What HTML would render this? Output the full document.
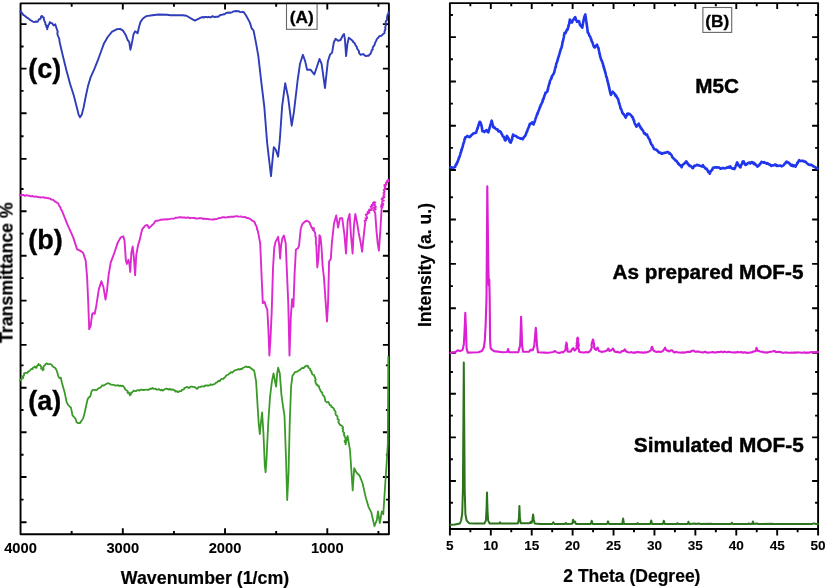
<!DOCTYPE html>
<html><head><meta charset="utf-8"><style>
html,body{margin:0;padding:0;background:#fff;width:825px;height:588px;overflow:hidden}
svg{display:block}
text{font-family:"Liberation Sans",sans-serif;font-weight:bold;fill:#000;stroke:#000;stroke-width:0.45px}
</style></head><body>
<svg width="825" height="588" viewBox="0 0 825 588">
<rect x="0" y="0" width="825" height="588" fill="#fff"/>
<rect x="286.5" y="3.4" width="30.6" height="25.9" fill="#fff" stroke="#666" stroke-width="1.1"/>
<rect x="702.9" y="7.5" width="28.8" height="24.9" fill="#fff" stroke="#666" stroke-width="1.1"/>
<path d="M71.67 3.40L71.67 6.70 M71.67 534.30L71.67 531.00 M122.80 3.40L122.80 9.40 M122.80 534.30L122.80 528.30 M173.93 3.40L173.93 6.70 M173.93 534.30L173.93 531.00 M225.05 3.40L225.05 9.40 M225.05 534.30L225.05 528.30 M276.17 3.40L276.17 6.70 M276.17 534.30L276.17 531.00 M327.30 3.40L327.30 9.40 M327.30 534.30L327.30 528.30 M378.43 3.40L378.43 6.70 M378.43 534.30L378.43 531.00 M20.55 24.10L26.55 24.10 M388.90 24.10L382.90 24.10 M20.55 46.50L23.55 46.50 M388.90 46.50L385.90 46.50 M20.55 68.60L26.55 68.60 M388.90 68.60L382.90 68.60 M20.55 90.90L23.55 90.90 M388.90 90.90L385.90 90.90 M20.55 113.30L26.55 113.30 M388.90 113.30L382.90 113.30 M20.55 136.30L23.55 136.30 M388.90 136.30L385.90 136.30 M20.55 158.90L26.55 158.90 M388.90 158.90L382.90 158.90 M20.55 189.00L23.55 189.00 M388.90 189.00L385.90 189.00 M20.55 211.30L26.55 211.30 M388.90 211.30L382.90 211.30 M20.55 233.60L23.55 233.60 M388.90 233.60L385.90 233.60 M20.55 255.80L26.55 255.80 M388.90 255.80L382.90 255.80 M20.55 278.10L23.55 278.10 M388.90 278.10L385.90 278.10 M20.55 300.60L26.55 300.60 M388.90 300.60L382.90 300.60 M20.55 323.10L23.55 323.10 M388.90 323.10L385.90 323.10 M20.55 344.90L26.55 344.90 M388.90 344.90L382.90 344.90 M20.55 365.40L23.55 365.40 M388.90 365.40L385.90 365.40 M20.55 387.70L26.55 387.70 M388.90 387.70L382.90 387.70 M20.55 410.00L23.55 410.00 M388.90 410.00L385.90 410.00 M20.55 432.20L26.55 432.20 M388.90 432.20L382.90 432.20 M20.55 454.70L23.55 454.70 M388.90 454.70L385.90 454.70 M20.55 477.00L26.55 477.00 M388.90 477.00L382.90 477.00 M20.55 499.60L23.55 499.60 M388.90 499.60L385.90 499.60 M20.55 522.30L26.55 522.30 M388.90 522.30L382.90 522.30 M449.90 529.00L449.90 535.50 M470.36 3.10L470.36 6.30 M470.36 529.00L470.36 532.30 M490.81 3.10L490.81 9.10 M490.81 529.00L490.81 535.50 M511.27 3.10L511.27 6.30 M511.27 529.00L511.27 532.30 M531.72 3.10L531.72 9.10 M531.72 529.00L531.72 535.50 M552.18 3.10L552.18 6.30 M552.18 529.00L552.18 532.30 M572.63 3.10L572.63 9.10 M572.63 529.00L572.63 535.50 M593.09 3.10L593.09 6.30 M593.09 529.00L593.09 532.30 M613.54 3.10L613.54 9.10 M613.54 529.00L613.54 535.50 M634.00 3.10L634.00 6.30 M634.00 529.00L634.00 532.30 M654.45 3.10L654.45 9.10 M654.45 529.00L654.45 535.50 M674.91 3.10L674.91 6.30 M674.91 529.00L674.91 532.30 M695.37 3.10L695.37 9.10 M695.37 529.00L695.37 535.50 M715.82 3.10L715.82 6.30 M715.82 529.00L715.82 532.30 M736.28 3.10L736.28 9.10 M736.28 529.00L736.28 535.50 M756.73 3.10L756.73 6.30 M756.73 529.00L756.73 532.30 M777.19 3.10L777.19 9.10 M777.19 529.00L777.19 535.50 M797.64 3.10L797.64 6.30 M797.64 529.00L797.64 532.30 M818.10 529.00L818.10 535.50 M449.90 15.00L452.90 15.00 M818.10 15.00L815.10 15.00 M449.90 37.15L455.90 37.15 M818.10 37.15L812.10 37.15 M449.90 59.30L452.90 59.30 M818.10 59.30L815.10 59.30 M449.90 81.45L455.90 81.45 M818.10 81.45L812.10 81.45 M449.90 103.60L452.90 103.60 M818.10 103.60L815.10 103.60 M449.90 125.75L455.90 125.75 M818.10 125.75L812.10 125.75 M449.90 147.90L452.90 147.90 M818.10 147.90L815.10 147.90 M449.90 170.05L455.90 170.05 M818.10 170.05L812.10 170.05 M449.90 197.30L452.90 197.30 M818.10 197.30L815.10 197.30 M449.90 219.50L455.90 219.50 M818.10 219.50L812.10 219.50 M449.90 241.70L452.90 241.70 M818.10 241.70L815.10 241.70 M449.90 263.90L455.90 263.90 M818.10 263.90L812.10 263.90 M449.90 286.10L452.90 286.10 M818.10 286.10L815.10 286.10 M449.90 308.30L455.90 308.30 M818.10 308.30L812.10 308.30 M449.90 330.50L452.90 330.50 M818.10 330.50L815.10 330.50 M449.90 352.70L455.90 352.70 M818.10 352.70L812.10 352.70 M449.90 372.00L452.90 372.00 M818.10 372.00L815.10 372.00 M449.90 393.80L455.90 393.80 M818.10 393.80L812.10 393.80 M449.90 415.60L452.90 415.60 M818.10 415.60L815.10 415.60 M449.90 437.40L455.90 437.40 M818.10 437.40L812.10 437.40 M449.90 459.20L452.90 459.20 M818.10 459.20L815.10 459.20 M449.90 481.00L455.90 481.00 M818.10 481.00L812.10 481.00 M449.90 502.80L452.90 502.80 M818.10 502.80L815.10 502.80" stroke="#000" stroke-width="1.9" fill="none"/>
<g fill="none" stroke="#000" stroke-width="1.9" stroke-linejoin="round">
<rect x="20.55" y="3.4" width="368.35" height="530.9"/>
<rect x="449.9" y="3.1" width="368.2" height="525.9"/>
</g>
<g fill="none" stroke-linejoin="round" stroke-linecap="round">
<polyline points="20.5,11.5 21.5,12.5 22.4,13.5 23.1,14.8 24.4,15.5 25.5,16.4 26.6,17.3 27.7,18.2 29.1,18.8 30.0,19.9 31.1,20.5 32.1,21.1 33.2,21.8 34.4,22.1 36.0,21.5 37.7,21.7 38.3,20.6 38.8,19.5 40.1,19.0 40.8,18.0 41.0,16.6 42.1,15.9 42.7,17.1 43.9,17.7 43.7,19.1 44.3,20.4 44.7,21.7 45.4,22.9 45.4,24.3 46.3,25.4 46.3,26.9 47.2,28.0 47.2,29.4 47.4,28.1 47.9,26.9 48.1,25.6 49.0,24.5 49.4,23.3 49.9,22.1 50.8,23.0 52.1,23.2 52.8,24.3 53.6,25.4 55.4,24.3 55.6,25.6 56.2,26.9 56.4,28.2 57.0,29.4 57.3,30.7 57.8,31.9 57.3,33.2 57.5,34.4 57.9,35.6 58.3,36.7 58.9,37.9 59.3,39.0 59.5,40.3 59.5,41.5 63.0,56.5 66.6,71.0 70.2,84.3 73.8,95.5 76.4,105.7 78.6,114.6 80.0,117.3 81.8,114.6 83.6,107.5 85.7,96.8 88.0,86.1 90.7,77.1 94.3,69.1 97.9,60.2 101.1,51.3 104.1,43.2 107.7,37.0 112.1,31.6 116.6,29.3 120.2,28.9 123.3,30.9 125.8,35.2 127.6,40.0 129.2,41.8 130.4,49.7 131.8,43.6 133.6,33.9 135.2,31.3 137.6,33.3 139.1,26.7 140.3,22.4 142.7,18.8 146.4,16.1 152.4,15.2 158.5,14.5 167.0,14.8 170.6,15.2 182.7,15.2 186.4,15.8 194.8,20.6 200.9,17.6 202.2,17.0 203.7,17.5 205.0,17.0 206.2,16.9 207.4,17.3 208.6,16.8 209.9,17.3 211.1,17.2 212.2,16.3 213.5,16.5 214.7,17.2 215.9,16.7 217.1,16.7 218.5,16.7 219.5,15.6 220.6,14.9 222.0,14.9 223.2,14.3 224.5,14.2 225.5,13.4 226.7,12.8 228.0,12.7 229.2,12.5 230.6,12.7 231.9,12.3 233.1,11.5 234.4,11.4 235.7,11.0 237.1,11.2 238.6,11.1 239.9,12.1 241.4,12.1 242.6,11.8 243.8,12.1 244.6,13.4 245.4,14.5 246.2,15.8 249.8,22.4 251.7,28.5 253.5,30.3 255.9,42.4 258.3,55.8 261.4,82.9 264.3,106.7 267.1,142.4 269.0,159.0 271.0,176.2 272.6,159.0 273.8,147.1 275.7,149.5 278.1,156.7 279.8,140.0 282.1,106.7 285.2,83.3 288.1,97.1 291.7,125.7 294.0,111.4 297.6,80.5 300.0,63.8 302.9,54.8 305.2,61.4 307.1,69.8 310.7,69.8 314.3,74.5 317.1,66.2 319.5,59.0 321.6,63.8 323.6,78.2 325.0,88.1 326.2,76.5 327.9,61.2 330.1,54.4 332.1,52.7 333.8,42.5 335.5,38.8 338.1,40.8 340.6,40.0 342.7,35.7 344.0,34.0 344.9,39.1 346.1,56.1 347.4,44.2 348.8,37.8 351.7,40.0 352.8,40.9 353.2,42.2 354.5,42.9 355.1,44.2 355.6,45.5 356.7,46.6 357.0,48.0 357.6,49.3 358.5,50.3 359.0,51.4 359.0,52.8 359.8,53.8 360.7,54.8 362.1,54.3 363.6,54.1 364.6,55.4 366.1,56.1 367.4,55.7 368.7,55.8 369.3,54.7 370.5,53.9 370.9,52.7 371.5,51.6 371.5,50.3 372.8,49.5 372.6,48.1 373.1,46.9 373.8,45.9 374.7,44.7 374.9,43.3 375.5,42.0 376.3,40.8 376.6,39.5 377.3,38.5 378.3,37.7 378.9,36.6 380.1,35.9 381.4,35.7 382.3,34.9 383.1,34.0 384.5,33.2 384.5,31.8 384.8,30.5 385.5,29.2 385.2,27.8 385.4,26.5 385.9,25.2 385.7,23.8 385.7,22.5 385.9,21.2 386.9,20.1 387.1,18.8 386.9,17.4 387.4,16.2 387.5,14.8 388.4,13.6 388.6,12.2" stroke="#2f3db8" stroke-width="1.9"/>
<polyline points="20.0,195.0 21.2,195.5 22.5,194.9 23.7,195.0 24.9,195.9 26.2,195.3 27.4,195.4 28.6,195.9 29.9,195.8 31.1,196.4 32.4,196.0 33.6,196.3 34.8,196.8 36.1,196.4 37.3,196.8 38.5,197.2 39.7,197.1 40.9,197.5 42.2,197.4 43.5,197.1 44.6,197.9 45.9,197.7 47.2,198.1 48.7,198.3 50.0,198.6 51.3,199.5 52.7,199.6 53.7,200.4 54.7,201.3 55.8,201.9 56.8,202.7 58.1,203.1 58.6,204.3 59.1,205.5 59.8,206.7 60.6,207.7 60.7,209.1 61.7,210.1 62.2,211.3 67.6,224.9 73.1,237.1 77.1,249.4 80.0,250.6 83.1,252.7 85.7,260.8 87.1,277.1 88.2,301.6 89.2,329.2 90.6,326.1 92.2,313.9 93.3,312.9 94.7,313.9 96.3,305.7 98.8,289.4 101.4,281.2 103.5,287.3 105.5,299.6 106.9,291.4 108.6,275.1 110.6,262.9 113.7,254.7 117.8,242.4 120.8,237.3 123.3,236.3 124.5,240.4 125.9,260.8 126.9,263.9 128.4,259.8 129.4,263.9 130.2,272.0 131.4,252.7 132.7,246.5 133.9,257.8 135.1,275.1 136.3,254.7 138.2,244.5 139.6,240.4 141.2,233.3 142.2,229.3 145.1,225.6 147.3,224.9 149.0,228.1 151.6,225.6 152.6,224.8 153.6,223.9 154.3,222.8 154.9,221.6 156.0,220.8 157.5,220.8 158.9,220.4 160.3,219.8 161.8,219.8 163.0,219.3 164.2,219.6 165.4,219.1 166.7,219.7 167.9,219.2 169.1,219.1 170.4,218.9 171.6,218.6 172.9,218.6 174.3,218.5 175.4,217.8 176.7,217.7 178.0,217.6 179.3,217.3 180.6,217.2 181.9,217.5 183.2,217.5 184.5,217.5 185.7,217.8 187.0,217.7 188.3,217.4 189.6,218.2 190.9,217.9 192.2,217.9 193.5,218.0 194.8,218.0 196.0,218.5 197.3,218.6 198.6,218.3 199.9,218.3 201.2,218.1 202.5,218.5 203.7,219.0 205.1,218.6 206.3,219.0 207.6,219.0 208.9,219.2 210.2,219.4 211.5,219.4 212.7,219.8 213.9,219.1 215.2,219.2 216.5,219.1 217.8,218.7 218.9,218.0 220.3,218.1 221.5,217.6 222.7,217.1 223.9,217.3 225.2,217.5 226.4,217.5 227.5,217.0 228.8,217.2 230.0,216.8 231.2,216.7 232.4,216.6 233.6,216.8 234.8,216.5 236.0,216.2 237.2,216.3 238.5,216.6 239.7,216.6 241.0,216.5 242.2,216.9 243.4,217.1 244.7,216.9 245.8,217.4 246.9,218.1 248.3,217.9 249.3,218.7 250.5,219.1 251.5,220.1 252.8,220.8 254.0,221.6 254.9,222.7 255.2,224.0 255.9,225.2 256.5,226.5 257.1,227.7 256.9,229.2 257.7,230.4 260.2,243.2 261.5,273.8 262.8,303.1 264.5,301.8 266.1,306.9 267.3,309.5 268.4,329.9 269.4,355.5 270.4,340.1 271.7,312.0 273.0,268.7 274.2,248.3 275.5,241.9 277.0,239.3 278.1,236.8 279.3,245.7 280.1,258.5 281.1,245.7 282.4,238.1 283.9,235.5 285.7,243.2 287.0,273.8 288.3,304.4 289.5,355.5 290.8,317.1 292.1,299.3 293.4,306.9 294.6,273.8 295.9,249.5 298.0,248.3 299.1,245.3 300.7,229.0 301.1,227.7 301.4,226.4 302.0,225.3 302.5,224.0 303.2,222.9 304.4,222.4 305.1,221.3 306.2,220.8 307.6,221.1 308.9,221.8 309.8,222.9 310.1,224.3 310.9,225.5 311.3,226.9 312.3,228.4 313.0,230.0 313.8,228.0 313.9,229.2 314.0,230.4 314.3,231.6 315.2,232.7 315.2,233.9 315.4,235.1 315.2,236.3 316.0,237.5 315.9,238.7 315.8,240.0 316.0,241.2 315.8,242.4 315.9,243.7 316.2,244.9 316.5,246.1 316.4,247.3 317.3,267.5 318.5,257.6 319.5,235.1 320.5,237.1 321.5,247.3 322.6,265.7 324.0,278.0 325.3,297.0 327.0,321.5 328.1,302.4 329.1,261.6 330.8,258.9 331.9,242.6 334.0,223.5 336.2,215.4 338.1,227.6 340.0,218.1 342.2,218.1 344.4,234.4 346.0,253.5 347.7,220.8 349.6,214.0 350.9,234.4 352.6,253.5 353.9,226.3 355.3,214.0 356.9,221.7 358.7,233.0 360.6,242.3 362.1,251.7 363.4,238.6 365.3,221.7 364.6,220.9 366.1,220.6 366.1,219.9 365.9,219.2 365.4,218.4 367.0,218.2 367.2,217.6 366.6,216.8 366.7,216.2 366.2,215.4 365.8,214.6 367.2,214.3 367.3,213.6 368.2,213.3 367.5,212.0 369.4,212.6 368.6,211.2 369.0,210.6 370.0,210.5 369.2,209.4 371.7,210.0 371.4,209.1 372.0,208.7 371.7,207.8 370.6,206.6 371.6,206.4 372.2,206.0 371.6,205.0 372.8,204.9 374.1,204.9 373.1,203.6 372.9,202.8 374.7,203.0 374.3,202.1 375.3,202.6 373.3,203.4 374.6,203.9 374.4,204.5 375.0,205.1 374.7,205.7 375.5,206.3 375.9,206.8 373.8,207.6 375.5,208.1 374.2,208.8 375.7,209.3 373.8,210.1 374.0,210.7 374.4,211.2 374.5,211.9 375.2,212.4 376.5,231.1 377.8,244.2 378.9,250.7 380.3,231.1 381.6,208.6 381.9,208.0 382.4,207.4 380.9,206.6 381.9,206.1 382.9,205.6 381.3,204.8 383.3,204.4 383.3,203.8 382.1,203.0 382.1,202.3 382.4,201.7 382.3,201.1 384.0,200.7 382.5,199.8 381.6,199.1 381.9,198.5 383.6,198.1 383.1,197.4 384.5,197.1 383.4,196.2 383.5,195.5 383.8,195.0 384.5,194.5 384.0,193.7 383.4,193.0 384.5,192.5 384.4,191.9 384.7,191.3 383.7,190.5 383.8,189.8 384.3,189.3 385.9,188.9 384.9,188.1 384.6,187.4 385.4,187.0 384.8,186.2 384.4,185.5 384.4,184.9 386.4,184.7 386.5,184.1 385.9,183.4 385.9,182.7 386.9,182.5 387.1,181.9 387.9,181.6 387.2,180.6 388.6,181.0 388.3,179.6" stroke="#dc2ad0" stroke-width="1.9"/>
<polyline points="20.0,380.5 20.7,379.6 21.4,378.8 22.6,378.6 23.2,377.7 22.8,376.4 23.9,375.8 24.1,374.7 24.0,373.6 25.1,372.9 26.4,372.9 27.7,372.9 28.0,371.5 29.3,371.1 30.2,370.3 31.2,369.0 32.8,369.0 32.9,367.8 34.0,367.3 34.7,366.5 35.4,367.6 36.6,367.8 36.5,366.6 37.2,365.7 38.2,365.0 38.5,363.9 39.0,365.1 40.4,365.2 40.7,366.3 41.5,367.2 41.1,368.6 42.9,369.0 42.7,370.3 43.7,369.5 43.3,368.1 43.5,367.0 43.9,366.0 44.9,365.2 45.6,364.0 46.8,363.3 47.9,364.2 49.3,364.2 50.8,364.2 51.9,365.2 52.6,366.1 53.4,366.9 54.4,367.5 55.0,367.8 55.7,368.6 56.1,369.6 56.7,370.5 58.3,376.1 59.4,378.1 60.8,377.7 61.9,382.7 63.3,387.7 65.0,393.8 66.6,402.1 68.1,404.8 69.6,406.5 71.0,407.6 72.5,415.3 74.0,417.0 75.5,418.7 76.6,422.3 78.2,423.1 79.9,423.1 81.5,420.9 83.2,418.1 84.3,414.2 86.0,406.5 87.6,399.3 88.7,397.6 90.2,396.5 91.5,391.5 92.6,389.9 94.8,389.9 96.5,390.2 98.7,388.2 100.4,387.7 102.0,385.5 103.7,385.5 105.0,384.7 106.7,383.7 107.8,383.2 108.9,383.4 109.8,383.8 110.7,384.7 111.8,384.6 112.9,384.8 114.0,384.9 115.0,385.5 116.0,385.6 117.0,385.4 118.1,385.2 119.1,386.0 120.1,385.5 121.2,386.1 122.5,385.7 123.5,386.4 124.1,387.3 124.8,388.1 125.1,389.3 125.9,390.0 126.9,390.6 127.8,391.3 127.5,392.9 129.2,393.0 129.4,394.2 129.9,395.2 130.9,394.5 130.9,393.0 132.1,392.4 132.8,391.5 133.7,390.5 135.0,391.2 136.1,391.0 137.1,390.3 138.3,390.2 139.5,390.6 140.5,389.8 141.5,389.5 142.5,390.1 143.5,390.0 144.5,389.9 145.5,389.8 146.5,389.5 147.7,389.8 148.7,389.8 149.6,388.8 150.6,388.6 151.6,388.9 152.6,387.9 153.7,388.9 154.7,388.8 155.7,388.6 156.4,389.6 157.5,389.7 158.7,389.1 159.6,389.6 160.5,390.3 161.7,389.6 162.5,390.6 163.5,390.2 164.4,389.4 165.4,389.0 166.4,388.6 167.6,388.9 168.6,389.6 170.0,388.9 171.0,389.8 172.2,389.4 173.5,389.8 174.7,390.3 175.4,391.6 177.1,391.1 177.8,392.3 178.8,391.6 179.9,391.1 181.3,391.0 182.0,389.8 183.1,389.7 184.0,389.3 184.4,387.9 185.4,387.6 186.3,387.2 187.4,387.0 188.4,387.8 189.5,387.9 190.6,386.6 191.6,386.7 192.7,386.8 193.7,386.8 194.8,387.2 195.6,387.7 196.4,388.5 197.3,388.9 197.9,388.0 198.5,387.1 199.8,387.2 200.8,386.7 201.8,386.3 203.0,386.3 204.2,386.5 205.0,385.5 206.0,385.7 207.0,385.4 208.0,385.5 209.0,385.5 210.0,385.2 210.7,384.2 212.2,385.0 213.1,384.5 214.1,384.2 215.0,383.7 215.8,382.7 216.8,382.5 217.7,381.8 218.4,380.9 219.8,381.1 220.4,379.8 221.3,379.2 222.4,378.9 223.6,378.8 224.1,377.7 225.1,377.2 225.7,376.1 226.5,375.3 227.5,374.8 228.7,374.5 229.2,373.4 230.3,373.2 230.8,372.2 232.4,372.7 233.1,371.8 233.8,371.1 234.6,370.3 235.6,370.1 236.6,369.9 237.6,369.6 238.5,369.0 239.8,369.7 240.6,368.9 242.0,369.1 242.8,367.9 243.9,367.5 245.0,367.0 246.3,366.4 247.4,367.2 249.0,366.8 250.3,367.7 254.2,370.8 256.1,381.4 257.7,407.7 258.7,423.5 259.8,434.1 260.8,423.5 262.1,412.5 263.5,434.1 264.8,465.7 265.6,472.3 266.6,457.8 268.2,423.5 270.0,397.2 271.9,381.4 273.5,373.4 275.0,381.4 276.1,386.6 277.2,373.4 278.2,367.7 279.8,373.4 281.4,394.5 283.2,407.7 284.5,415.6 285.9,455.2 287.2,500.0 288.5,473.6 289.8,420.9 291.1,386.6 292.4,376.1 295.1,372.1 297.7,371.3 300.4,369.5 301.3,368.6 302.2,367.9 303.8,368.0 304.5,366.9 305.7,366.2 306.9,365.7 308.3,366.3 308.2,367.6 309.3,368.3 310.3,369.0 310.2,370.3 311.5,371.0 311.3,372.3 312.0,373.1 312.3,374.3 313.1,374.9 314.3,375.2 314.2,376.3 315.1,377.3 315.2,378.4 315.8,379.4 315.0,380.6 315.6,381.6 315.5,382.8 316.4,383.7 316.4,384.8 317.6,384.9 318.1,386.2 319.3,386.3 319.0,387.6 319.6,388.6 320.1,389.7 320.5,390.7 321.1,391.7 322.3,392.5 322.3,393.7 322.7,394.8 323.4,395.7 324.3,396.6 324.7,397.6 324.8,398.9 325.2,399.9 325.3,401.1 326.2,401.7 327.1,402.4 328.3,402.0 329.1,402.8 329.3,404.2 330.0,405.2 331.3,405.6 331.3,406.9 332.6,407.3 333.4,408.1 334.0,409.0 334.2,410.1 335.1,410.9 335.6,411.9 335.5,413.1 335.6,414.3 336.2,415.3 337.2,416.0 337.5,417.1 337.6,418.2 337.6,419.3 339.0,420.1 338.5,421.4 338.4,422.6 339.3,423.5 339.7,424.5 340.5,425.2 341.6,425.6 342.3,426.4 343.1,427.3 342.4,428.5 343.3,429.3 342.9,430.5 342.8,431.6 344.0,432.4 344.2,433.4 343.7,434.6 344.6,435.4 344.4,436.5 345.4,437.6 345.5,438.7 345.6,439.8 344.5,441.0 344.8,442.1 346.0,443.1 345.5,444.3 347.6,436.0 350.0,450.2 351.2,468.1 352.7,490.4 354.2,468.1 356.5,472.6 359.5,475.5 362.5,483.0 365.5,496.4 368.5,506.8 371.4,512.7 374.4,526.1 376.8,520.2 378.0,511.3 379.8,523.2 381.8,511.3 383.3,514.2 385.1,486.0 386.3,468.1 387.8,444.3 388.3,357.0" stroke="#3a9a28" stroke-width="1.8"/>
<polyline points="450.4,167.3 451.3,167.2 452.3,167.8 453.2,167.8 454.2,167.5 455.2,166.9 455.6,165.3 456.0,164.4 456.4,164.7 456.8,163.1 457.2,162.2 457.5,162.5 457.8,161.0 458.1,160.7 458.4,159.4 458.7,158.9 459.0,157.4 459.3,157.3 459.6,156.9 459.8,155.6 460.1,155.2 460.3,154.3 460.6,152.7 460.8,152.9 461.1,151.9 461.3,150.7 461.5,149.5 461.8,149.8 462.0,148.5 462.2,148.0 462.5,147.4 462.7,146.3 462.9,145.8 463.2,144.2 463.4,143.9 463.6,142.7 463.9,142.6 464.1,141.7 464.4,139.9 464.6,139.2 464.9,138.5 465.1,138.8 465.4,137.3 466.4,136.9 467.4,135.8 468.1,136.5 468.8,136.8 469.5,137.2 470.0,136.8 470.5,136.2 471.0,135.9 471.5,135.0 472.2,134.6 472.9,133.9 473.6,133.4 474.6,133.1 475.6,132.6 475.9,132.9 476.2,132.3 476.5,131.4 476.8,130.2 477.1,129.7 477.4,128.2 477.7,128.4 477.9,127.2 478.2,126.1 478.4,125.0 478.7,125.3 478.9,124.8 479.2,122.7 479.4,123.0 479.7,121.7 480.2,122.0 480.6,122.8 481.1,124.2 481.3,125.2 481.4,124.9 481.6,126.5 481.8,126.6 481.9,128.4 482.1,128.7 482.2,130.3 482.4,131.3 483.4,131.0 484.5,132.0 485.5,130.7 486.5,130.0 487.1,131.4 487.7,131.3 488.3,132.3 488.5,131.8 488.7,131.3 488.9,129.9 489.1,129.0 489.3,129.3 489.5,127.8 489.7,127.9 489.9,127.1 490.2,125.5 490.4,124.7 490.7,123.9 490.9,123.2 491.2,122.3 491.4,121.4 491.7,120.6 491.9,121.9 492.1,122.1 492.3,122.9 492.5,124.1 492.7,124.3 492.9,125.2 493.1,127.0 493.3,127.2 494.0,127.7 494.6,127.4 495.3,128.5 496.7,129.4 497.4,129.3 498.0,130.8 498.7,131.5 499.8,131.0 500.8,132.2 501.2,132.9 501.7,134.1 502.1,134.5 502.6,135.8 503.1,136.7 503.7,136.6 504.2,137.5 504.6,139.2 505.1,140.5 505.5,140.5 505.7,140.0 506.0,139.4 506.2,138.2 506.4,137.5 506.7,136.6 506.9,135.9 507.4,136.9 507.8,137.2 508.3,137.9 508.6,139.3 509.0,139.0 509.3,140.6 509.6,141.6 510.0,141.8 510.3,142.5 510.8,142.6 511.2,141.1 511.7,140.4 511.9,139.8 512.1,139.3 512.3,137.6 512.4,137.1 512.6,136.2 512.8,136.0 513.0,134.6 513.9,135.9 514.7,135.6 515.5,135.9 516.4,136.3 517.1,137.3 517.8,137.4 518.5,137.7 519.5,137.9 520.5,138.8 521.5,138.4 522.6,139.2 523.3,138.6 523.9,137.0 524.6,136.4 525.0,136.3 525.4,135.3 525.8,134.7 526.2,133.3 526.6,132.2 526.9,131.6 527.2,131.5 527.5,130.0 527.8,129.3 528.1,128.7 528.4,127.9 528.7,127.1 529.0,127.0 529.4,125.1 529.7,124.0 530.1,124.5 530.4,123.6 531.2,123.4 532.1,122.3 532.9,123.7 533.7,124.4 534.0,122.6 534.3,122.5 534.6,121.9 534.9,120.8 535.2,119.8 535.5,118.7 535.8,118.0 536.1,117.1 536.4,116.1 536.6,116.0 536.9,114.8 537.2,114.8 537.5,113.0 537.8,113.3 538.0,112.1 538.3,111.5 538.6,110.6 539.1,109.7 539.6,108.3 539.9,106.7 540.3,106.9 540.6,105.3 540.9,104.7 541.3,104.4 541.6,103.4 542.1,102.2 542.4,102.2 542.7,100.9 542.9,99.8 543.2,98.9 543.5,99.0 543.8,97.7 544.0,97.4 544.3,96.1 544.6,95.1 544.9,94.8 545.1,94.5 545.4,92.8 545.7,92.9 546.3,92.5 546.9,91.7 547.5,91.2 547.7,89.2 547.9,89.3 548.1,88.8 548.3,86.9 548.5,86.4 548.7,85.6 548.9,85.2 549.1,84.3 549.3,83.6 549.6,83.2 549.9,81.3 550.2,80.6 550.5,79.9 550.8,79.1 551.1,78.2 551.4,78.7 551.7,77.7 552.0,75.8 552.6,75.5 553.2,74.4 553.8,73.5 554.0,72.8 554.2,72.4 554.4,71.4 554.7,70.3 554.9,69.2 555.1,68.6 555.3,67.5 555.5,67.3 555.8,66.7 556.0,65.4 556.2,64.1 556.4,63.4 556.6,62.9 556.9,62.4 557.1,61.9 557.4,60.5 557.6,60.3 557.9,59.2 558.1,58.1 558.4,57.2 558.6,56.6 558.9,56.1 559.1,54.9 559.3,54.5 559.6,53.3 559.8,52.2 560.1,51.8 560.3,51.2 560.6,49.5 560.8,49.2 561.1,48.4 561.3,48.2 561.6,47.5 561.8,45.9 562.0,45.8 562.2,44.8 562.3,43.3 562.5,42.7 562.7,41.4 562.9,41.5 563.1,40.5 563.2,40.0 563.4,39.0 563.6,38.0 563.8,37.3 564.0,36.2 564.1,34.7 564.3,34.6 564.5,32.9 565.1,32.5 565.7,32.8 566.3,31.2 566.7,30.3 567.1,29.4 567.6,29.6 568.0,27.8 568.2,26.7 568.4,27.1 568.5,25.3 568.7,25.5 568.9,24.4 569.1,23.9 569.3,23.2 569.4,21.9 569.6,21.4 569.8,19.6 570.2,21.2 570.7,21.6 571.1,22.5 571.6,22.3 572.0,22.5 572.3,22.1 572.7,20.1 573.0,19.8 573.4,19.4 574.0,19.2 574.6,17.7 575.2,17.1 575.5,17.9 575.8,19.2 576.1,20.1 576.4,20.4 576.7,21.1 577.0,21.9 577.9,21.3 578.8,21.0 579.1,21.4 579.5,22.9 579.8,24.4 580.2,24.5 580.5,25.8 581.1,25.6 581.7,27.0 582.3,27.7 582.4,26.7 582.6,25.7 582.8,24.8 582.9,24.2 583.0,23.8 583.2,21.9 583.4,21.0 583.5,21.1 583.6,20.5 583.8,19.2 584.0,18.2 584.1,17.8 584.5,16.2 585.0,15.4 585.4,14.4 585.5,15.7 585.6,16.1 585.7,16.8 585.8,18.3 586.0,19.4 586.1,19.3 586.2,20.7 586.3,21.1 586.4,22.5 586.5,22.9 586.6,23.3 586.7,24.1 586.8,24.6 586.9,26.1 587.0,26.7 587.2,27.3 587.3,28.3 587.4,29.1 587.5,30.6 587.6,30.5 587.7,32.5 588.1,32.5 588.5,33.5 588.9,34.0 589.2,35.3 589.6,36.0 590.0,36.4 590.4,37.1 590.7,38.2 591.0,39.2 591.3,39.4 591.6,40.6 591.8,41.7 592.1,41.9 592.4,42.3 592.7,43.1 593.0,44.6 593.4,45.3 593.7,46.4 594.1,47.0 594.4,46.8 594.8,47.5 595.2,46.8 595.5,46.0 595.9,46.0 596.2,45.5 596.6,44.9 597.0,44.7 597.3,46.3 597.7,46.2 598.0,47.1 598.4,48.2 598.6,48.1 598.7,48.9 598.9,50.8 599.1,50.8 599.2,51.7 599.4,52.9 599.5,53.8 599.7,53.7 599.9,55.0 600.0,55.9 600.2,56.8 600.5,57.2 600.8,58.5 601.1,59.8 601.4,59.8 601.7,60.8 602.0,61.0 602.3,62.0 602.6,63.3 602.9,63.4 603.1,65.3 603.4,66.1 603.6,65.8 603.8,67.8 604.1,67.8 604.3,69.2 604.6,70.0 604.8,70.2 605.0,71.5 605.3,72.3 605.5,73.3 605.7,73.4 605.9,74.9 606.1,76.0 606.3,76.4 606.5,77.1 606.7,77.3 607.0,78.7 607.2,79.3 607.4,80.6 607.6,81.4 607.8,82.0 608.0,82.3 608.2,83.8 608.4,84.6 608.6,84.8 608.8,86.6 609.0,87.1 609.2,87.2 609.4,89.2 609.5,88.9 609.7,90.0 609.9,91.4 610.1,92.0 610.3,92.8 610.5,93.7 610.7,94.3 610.9,94.9 611.3,94.0 611.6,93.2 612.0,93.3 612.3,92.7 612.7,91.7 613.2,92.7 613.8,92.8 614.3,93.4 614.9,94.3 615.4,95.7 615.9,95.2 616.3,96.5 616.8,96.8 617.2,98.2 617.6,98.3 618.1,99.0 618.3,99.9 618.6,100.9 618.8,102.1 619.0,102.4 619.2,103.9 619.5,103.7 619.7,104.8 619.9,105.4 620.2,106.2 620.4,108.0 620.7,108.7 621.0,108.7 621.3,109.4 621.7,110.5 622.0,111.7 622.3,112.6 622.6,113.2 623.1,113.8 623.6,113.9 624.2,115.1 624.7,115.5 625.2,116.8 625.7,117.6 626.1,116.3 626.5,115.7 626.9,115.6 627.2,113.8 627.6,114.2 628.0,113.5 628.8,114.1 629.5,113.8 630.3,114.6 630.9,115.2 631.5,115.8 632.0,116.9 632.6,117.1 632.9,117.3 633.1,118.8 633.4,119.1 633.6,120.0 633.9,121.0 634.1,120.7 634.4,122.5 634.6,123.2 634.9,123.7 635.3,124.5 635.6,125.1 636.0,125.5 636.4,126.7 637.0,125.3 637.5,125.2 638.1,124.7 638.7,123.6 639.1,124.6 639.5,125.9 639.9,126.5 640.2,126.3 640.6,127.9 641.0,128.5 641.5,128.4 642.0,129.6 642.5,130.2 643.1,130.7 643.6,132.1 644.1,133.4 644.9,133.1 645.6,134.5 646.4,134.8 647.1,134.6 647.6,136.4 648.0,136.8 648.5,138.0 648.9,138.5 649.4,139.3 649.7,139.5 650.0,141.0 650.3,141.9 650.5,142.6 650.8,142.7 651.1,143.9 651.4,144.3 651.7,144.6 652.2,145.2 652.6,146.0 653.1,147.0 653.5,147.7 654.0,148.9 654.8,149.4 655.5,149.5 656.3,149.6 656.9,150.5 657.5,150.6 658.2,151.5 658.8,152.5 659.4,152.6 660.4,152.5 661.4,153.8 662.4,153.8 663.2,153.1 664.0,152.9 664.7,152.9 665.5,152.8 666.5,152.3 667.5,152.0 668.5,152.3 669.3,153.6 670.0,153.3 670.8,154.2 671.2,154.6 671.6,155.4 672.0,156.1 672.3,157.2 672.7,157.6 673.1,158.1 673.9,158.8 674.7,159.5 675.4,160.5 676.2,160.5 676.7,161.1 677.2,162.3 677.8,162.9 678.3,164.0 678.8,163.7 679.3,164.9 680.1,165.4 680.8,165.3 681.6,167.2 682.3,165.3 683.1,164.4 683.8,164.2 684.4,163.2 685.0,163.2 685.5,162.3 686.1,161.4 686.7,161.8 687.2,163.4 687.8,163.3 688.4,164.6 689.0,164.7 689.5,166.0 690.1,165.6 690.7,166.1 691.5,166.7 692.2,167.9 693.0,168.2 693.6,167.0 694.1,165.9 694.7,166.0 695.3,165.7 696.1,165.4 696.8,164.8 697.6,165.0 698.4,165.3 699.2,165.6 699.9,165.7 700.7,165.9 701.5,166.4 702.2,166.5 703.0,165.2 703.6,166.9 704.2,166.8 704.9,167.8 705.5,168.6 706.1,169.2 706.6,168.6 707.2,169.6 707.7,170.7 708.2,171.9 708.7,171.3 709.3,172.3 709.8,173.7 710.3,171.9 710.8,171.5 711.2,170.7 711.7,170.4 712.2,170.0 712.6,168.2 713.1,168.2 713.6,167.4 714.6,167.6 715.7,167.2 716.7,167.7 717.6,167.2 718.5,167.6 719.4,167.6 720.3,168.7 721.2,168.6 722.1,168.1 723.0,167.9 724.0,168.5 724.9,168.2 725.8,168.2 726.7,167.6 727.6,167.6 728.5,166.9 729.4,167.6 730.3,166.4 731.1,167.5 731.8,168.4 732.6,168.7 733.3,168.4 734.1,169.0 734.4,169.1 734.8,168.1 735.1,167.7 735.4,166.9 735.8,165.6 736.1,165.4 736.4,164.4 736.8,163.1 737.1,162.4 737.5,162.8 738.0,164.0 738.4,165.5 738.9,165.1 739.3,166.5 739.8,166.6 740.2,167.3 740.5,167.4 740.9,166.0 741.2,165.0 741.5,164.4 741.9,164.3 742.2,163.5 742.5,161.9 742.9,161.5 743.2,161.8 743.7,161.4 744.1,162.7 744.6,163.2 745.0,164.5 745.5,164.9 746.2,164.8 747.0,164.1 747.8,163.2 748.5,162.8 749.4,162.6 750.3,163.5 751.2,162.3 752.1,162.1 753.0,163.3 753.7,162.7 754.3,164.2 755.0,163.6 755.6,164.7 756.3,164.9 756.9,166.3 757.6,166.6 758.2,166.0 758.7,165.6 759.3,165.2 759.9,163.9 760.4,163.7 761.0,162.9 761.5,161.8 762.1,162.3 762.9,162.2 763.6,162.7 764.4,162.1 765.2,162.9 765.9,163.0 766.7,163.6 767.5,163.1 768.2,163.9 769.0,164.4 769.7,164.2 770.5,165.3 771.2,165.9 772.1,165.3 773.0,165.5 774.0,165.3 774.9,164.6 775.8,164.6 776.5,165.9 777.3,165.4 778.0,165.9 778.8,165.8 779.8,165.8 780.7,165.5 781.6,166.4 782.6,165.9 783.2,165.5 783.9,165.0 784.5,163.8 785.2,163.6 785.8,162.4 786.5,161.6 787.1,161.7 787.7,162.3 788.4,163.0 789.0,162.9 789.6,163.9 790.3,164.1 790.9,165.5 791.7,165.7 792.4,165.0 793.2,166.2 794.0,165.4 794.7,165.6 795.5,166.7 796.0,165.3 796.4,164.9 796.9,164.3 797.4,162.7 797.8,162.9 798.3,161.5 798.7,161.0 799.2,160.1 800.1,160.9 801.0,161.1 801.9,160.8 802.7,160.7 803.6,161.3 804.5,161.7 805.3,161.6 806.0,162.1 806.8,163.3 807.6,163.6 808.3,164.4 809.1,164.8 809.9,165.0 810.6,164.7 811.4,164.8 812.1,165.4 812.9,166.0 813.6,166.4 814.4,166.9 815.1,167.1 815.9,168.2 816.6,167.9 817.4,168.6" stroke="#1f36ec" stroke-width="2.6"/>
<polyline points="450.4,352.9 453.0,352.3 455.3,352.1 457.7,350.3 460.1,351.1 462.5,350.1 463.8,344.5 464.6,330.5 465.3,312.9 466.0,330.5 466.6,348.5 467.8,352.6 472.0,352.5 478.3,352.3 481.9,351.1 483.8,347.5 484.8,340.5 485.7,323.5 486.5,298.0 487.3,186.2 488.3,265.5 488.8,285.5 489.3,279.5 489.7,300.5 490.1,340.5 490.6,348.0 491.8,349.5 494.0,351.1 502.5,352.3 507.2,352.0 508.1,349.0 509.1,352.3 518.3,352.3 520.1,345.5 520.7,330.5 521.1,316.9 521.6,330.5 522.1,345.5 523.0,351.7 529.2,351.7 530.4,349.9 532.8,350.1 534.3,345.5 535.1,335.5 535.8,327.8 536.4,335.5 537.0,345.5 538.0,352.3 545.0,352.6 546.7,352.7 548.3,352.8 550.0,352.5 551.7,352.3 553.4,351.9 554.9,351.0 557.0,352.5 558.5,352.7 560.0,352.9 561.5,352.1 563.0,352.5 564.0,351.5 565.0,350.5 565.7,348.9 565.7,347.2 565.8,345.5 566.4,344.1 566.3,342.6 566.9,344.0 566.9,345.5 567.1,347.0 567.5,348.5 567.4,350.0 567.6,351.5 569.3,351.6 571.0,351.5 571.4,350.1 572.3,349.0 573.3,348.0 574.0,349.2 574.3,350.5 575.6,349.8 576.4,348.5 576.8,347.2 576.4,345.8 577.1,344.5 576.6,343.1 577.2,341.8 577.2,340.5 577.1,338.9 577.7,337.5 578.3,339.1 577.8,340.9 578.3,342.5 578.7,344.0 578.8,345.5 578.2,347.0 578.4,348.5 579.1,350.0 579.0,351.5 580.2,352.2 581.7,352.2 583.0,352.5 584.5,352.5 586.0,352.0 587.5,352.5 589.0,352.0 589.9,350.9 590.9,349.9 591.3,348.5 591.9,347.2 591.5,345.7 591.8,344.3 591.8,342.9 592.3,341.5 592.9,339.5 593.5,340.9 593.5,342.5 594.1,343.9 594.1,345.5 594.1,347.0 594.4,348.5 596.0,350.0 596.5,348.6 597.7,347.7 598.2,349.4 599.0,351.0 600.5,351.4 602.0,352.0 603.2,351.5 604.6,351.5 605.7,350.9 607.0,350.5 608.2,348.5 609.0,349.7 609.5,351.0 611.6,350.0 613.0,348.5 613.8,350.0 614.5,351.5 616.0,352.0 617.6,351.8 619.0,352.5 620.6,352.4 621.9,351.1 623.5,351.0 624.8,349.3 625.4,350.5 626.3,351.5 628.1,352.3 630.0,352.5 631.4,352.1 632.9,352.8 634.3,352.4 635.7,352.6 637.1,352.1 638.6,352.1 640.0,352.5 641.5,352.2 643.0,352.9 644.5,352.2 646.0,352.5 647.6,352.0 649.2,351.5 650.5,350.5 651.4,349.4 651.4,348.0 652.0,346.8 652.6,348.0 653.0,349.3 653.5,350.5 655.2,351.5 657.0,352.0 658.6,351.5 660.4,351.9 662.0,351.5 663.2,350.7 664.0,349.5 665.2,347.7 665.6,349.2 666.5,350.5 667.9,350.6 669.0,351.5 671.0,350.3 672.0,350.2 673.5,352.0 674.8,352.5 676.1,351.8 677.4,352.2 678.7,352.5 680.0,352.5 681.4,352.8 682.8,352.2 684.3,352.7 685.7,352.3 687.1,352.0 688.6,351.9 690.0,352.0 691.6,351.0 693.5,350.5 695.0,351.8 696.7,351.5 698.3,351.6 700.0,352.0 701.4,352.2 702.8,352.6 704.3,351.9 705.7,351.9 707.1,352.8 708.6,352.5 710.0,352.5 711.4,352.3 712.8,352.1 714.3,352.4 715.7,352.5 717.1,352.1 718.6,352.0 720.0,352.0 721.4,351.6 722.9,352.4 724.3,351.6 725.7,352.0 727.1,352.3 728.6,351.7 730.0,352.0 731.4,352.3 732.8,352.5 734.3,352.2 735.7,352.4 737.2,351.9 738.6,352.2 740.0,352.3 741.4,352.0 742.9,352.7 744.3,352.2 745.7,352.4 747.1,352.9 748.6,352.8 750.0,352.5 751.5,352.5 752.8,351.7 754.2,351.4 755.6,351.0 756.2,349.5 756.5,347.8 757.0,349.2 757.5,350.7 758.8,350.9 760.0,351.5 761.4,351.7 762.7,351.9 764.0,352.5 765.3,352.2 766.7,352.6 768.1,352.4 769.3,351.9 770.7,351.7 772.0,351.5 774.3,350.9 776.0,352.1 777.5,352.0 779.0,351.9 780.5,352.1 782.0,352.6 783.5,352.8 785.0,352.5 786.4,352.4 787.7,352.8 789.1,352.7 790.5,352.7 791.8,352.6 793.2,352.7 794.5,352.4 795.9,352.7 797.3,352.3 798.6,352.5 800.0,352.5 801.4,352.7 802.9,352.7 804.3,352.3 805.7,352.9 807.1,352.6 808.6,352.6 810.0,352.5 811.3,352.0 812.7,352.4 814.0,352.1 815.3,352.4 816.7,352.1 818.0,352.1" stroke="#dc1ed4" stroke-width="2.1"/>
<polyline points="450.4,524.7 455.0,524.4 459.9,523.5 461.1,520.5 462.2,514.0 462.9,490.0 463.4,420.0 463.8,362.4 464.2,420.0 464.7,490.0 465.4,514.0 466.6,520.5 469.0,523.2 475.0,523.6 484.5,523.4 485.9,520.3 486.5,510.0 487.0,492.5 487.5,510.0 488.1,520.3 489.5,523.4 499.4,523.5 500.1,522.4 500.8,523.5 518.0,523.4 518.9,518.5 519.4,505.9 519.9,518.5 520.8,523.3 529.8,523.3 530.7,521.8 531.6,523.0 532.4,520.0 533.1,514.5 533.8,520.0 534.7,523.5 540.0,524.0 552.2,524.0 553.3,522.2 554.4,524.0 564.9,524.0 565.9,523.1 566.9,524.0 572.2,523.8 573.1,519.8 574.0,522.5 575.0,521.5 576.0,524.0 590.7,524.0 591.7,520.8 592.7,524.0 607.0,524.0 608.0,521.4 609.0,524.0 622.2,524.0 623.1,518.6 624.0,524.0 636.8,524.0 637.6,523.1 638.5,524.0 650.3,524.0 651.2,520.4 652.1,524.0 662.9,524.0 663.8,520.8 664.8,524.0 676.5,524.0 677.4,523.1 678.3,524.0 687.6,524.0 688.4,521.8 689.3,524.0 695.0,523.6 696.0,524.0 699.0,523.4 700.0,524.0 711.0,523.8 712.0,524.0 731.0,524.0 731.8,522.7 732.6,524.0 748.0,524.0 749.0,523.5 750.0,524.0 752.2,524.0 752.9,521.5 753.6,524.0 757.0,523.4 758.0,524.0 772.0,523.8 773.0,524.0 780.0,524.0 800.0,524.0 812.0,524.0 814.0,523.4 816.0,524.0 818.0,524.0" stroke="#2b741c" stroke-width="2.0"/>
</g>
<g style="filter:grayscale(1)">
<text x="301.8" y="23.0" text-anchor="middle" style="stroke-width:0.3px" font-size="17.3">(A)</text>
<text x="717.2" y="26.7" text-anchor="middle" style="stroke-width:0.3px" font-size="17.3">(B)</text>
<text x="28.2" y="77.6" font-size="27" style="stroke-width:0.35px">(c)</text>
<text x="28.2" y="249" font-size="27" style="stroke-width:0.35px">(b)</text>
<text x="28.2" y="410" font-size="27" style="stroke-width:0.35px">(a)</text>
<text x="717" y="93" text-anchor="middle" font-size="20.7">M5C</text>
<text x="708" y="278.6" text-anchor="middle" font-size="20.7">As prepared MOF-5</text>
<text x="718.8" y="451.8" text-anchor="middle" font-size="20.8">Simulated MOF-5</text>
<text x="205" y="583.6" text-anchor="middle" style="stroke-width:0.2px" font-size="17.8">Wavenumber (1/cm)</text>
<text x="631.9" y="581.8" text-anchor="middle" style="stroke-width:0.2px" font-size="17.5">2 Theta (Degree)</text>
<text transform="translate(12.6,272.6) rotate(-90)" text-anchor="middle" style="stroke-width:0.2px" font-size="17.7">Transmittance %</text>
<text transform="translate(431.4,265.0) rotate(-90)" text-anchor="middle" style="stroke-width:0.2px" font-size="17.6">Intensity (a. u.)</text>
<text x="20.55" y="552.8" text-anchor="middle" font-size="14.7" style="stroke-width:0.1px">4000</text><text x="122.80" y="552.8" text-anchor="middle" font-size="14.7" style="stroke-width:0.1px">3000</text><text x="225.05" y="552.8" text-anchor="middle" font-size="14.7" style="stroke-width:0.1px">2000</text><text x="327.30" y="552.8" text-anchor="middle" font-size="14.7" style="stroke-width:0.1px">1000</text>
<text x="449.90" y="550.0" text-anchor="middle" font-size="13.6" style="stroke-width:0.1px">5</text><text x="490.81" y="550.0" text-anchor="middle" font-size="13.6" style="stroke-width:0.1px">10</text><text x="531.72" y="550.0" text-anchor="middle" font-size="13.6" style="stroke-width:0.1px">15</text><text x="572.63" y="550.0" text-anchor="middle" font-size="13.6" style="stroke-width:0.1px">20</text><text x="613.54" y="550.0" text-anchor="middle" font-size="13.6" style="stroke-width:0.1px">25</text><text x="654.45" y="550.0" text-anchor="middle" font-size="13.6" style="stroke-width:0.1px">30</text><text x="695.37" y="550.0" text-anchor="middle" font-size="13.6" style="stroke-width:0.1px">35</text><text x="736.28" y="550.0" text-anchor="middle" font-size="13.6" style="stroke-width:0.1px">40</text><text x="777.19" y="550.0" text-anchor="middle" font-size="13.6" style="stroke-width:0.1px">45</text><text x="818.10" y="550.0" text-anchor="middle" font-size="13.6" style="stroke-width:0.1px">50</text>
</g>
</svg>
</body></html>
